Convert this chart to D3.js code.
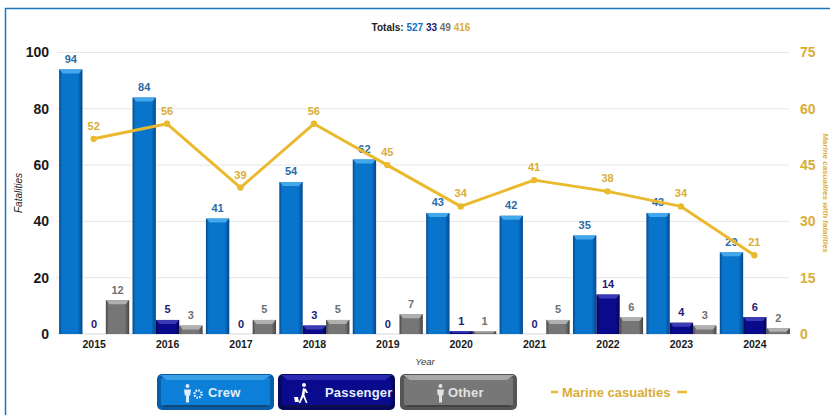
<!DOCTYPE html>
<html><head><meta charset="utf-8">
<script src="https://cdn.jsdelivr.net/npm/d3@7"></script>
<style>
html,body{margin:0;padding:0;background:#fff}
svg{display:block}
text{font-family:"Liberation Sans",Arial,sans-serif}
</style></head><body>
<svg id="c" width="830" height="415"></svg>
<script>
const years=["2015","2016","2017","2018","2019","2020","2021","2022","2023","2024"];
const crew=[94,84,41,54,62,43,42,35,43,29];
const passenger=[0,5,0,3,0,1,0,14,4,6];
const other=[12,3,5,5,7,1,5,6,3,2];
const casualties=[52,56,39,56,45,34,41,38,34,21];
const leftTicks=[0,20,40,60,80,100];
const rightTicks=[0,15,30,45,60,75];
const totals=[527,33,49,416];

const BLUE="#0a70c8",NAVY="#0b0b86",GREY="#6e6e6e",GOLD="#eab92e",GOLDT="#d9ad38";
const seriesDefs=[
 {k:"crew",v:crew,base:"#0874cc",edge:"#04488c",top:"#43a7ec",txt:"#2a6aa6"},
 {k:"passenger",v:passenger,base:"#0a0a8c",edge:"#050552",top:"#3a3ab4",txt:"#1d1a76"},
 {k:"other",v:other,base:"#767676",edge:"#454545",top:"#b0b0b0",txt:"#6f6f6f"}];

const svg=d3.select("#c");
const defs=svg.append("defs");
seriesDefs.forEach(s=>{
 const g=defs.append("linearGradient").attr("id","g-"+s.k).attr("x1",0).attr("x2",1).attr("y1",0).attr("y2",0);
 [[0,s.edge],[.12,s.base],[.8,s.base],[1,s.edge]].forEach(d=>g.append("stop").attr("offset",d[0]).attr("stop-color",d[1]));
 const b=defs.append("linearGradient").attr("id","b-"+s.k).attr("x1",0).attr("x2",0).attr("y1",0).attr("y2",1);
 [[0,s.top],[.45,s.base],[.82,s.base],[1,s.edge]].forEach(d=>b.append("stop").attr("offset",d[0]).attr("stop-color",d[1]));
});

// frame
svg.append("path").attr("d","M5.5 415V8.5H830").attr("fill","none").attr("stroke","#1b76c0").attr("stroke-width",1.5);

const x=d3.scaleBand().domain(years).range([58,791]).paddingInner(0.045).paddingOuter(0.015);
const inner=d3.scaleBand().domain(seriesDefs.map(s=>s.k)).range([0,x.bandwidth()]);
const y=d3.scaleLinear().domain([0,100]).range([334,52.5]);
const y2=d3.scaleLinear().domain([0,75]).range([334,52.5]);

// grid
svg.append("g").selectAll("line").data(leftTicks.filter(d=>d>0)).join("line")
 .attr("x1",57).attr("x2",789).attr("y1",d=>y(d)).attr("y2",d=>y(d))
 .attr("stroke","#e6e6e6").attr("stroke-width",1);

// axes
const ax=svg.append("g").attr("transform","translate(49,0)").call(d3.axisLeft(y).tickValues(leftTicks).tickSize(0).tickPadding(0));
ax.select(".domain").remove();
ax.selectAll("text").attr("font-size",14).attr("font-weight","bold").attr("fill","#1a1a1a").style("font-family",'"Liberation Sans"');
const ax2=svg.append("g").attr("transform","translate(800,0)").call(d3.axisRight(y2).tickValues(rightTicks).tickSize(0).tickPadding(0));
ax2.select(".domain").remove();
ax2.selectAll("text").attr("font-size",14).attr("font-weight","bold").attr("fill",GOLDT).style("font-family",'"Liberation Sans"');
const ax3=svg.append("g").attr("transform","translate(0,341)").call(d3.axisBottom(x).tickSize(0).tickPadding(0));
ax3.select(".domain").remove();
ax3.selectAll("text").attr("font-size",10.5).attr("font-weight","bold").attr("fill","#1a1a1a").style("font-family",'"Liberation Sans"');

// baseline
svg.append("line").attr("x1",58).attr("x2",789).attr("y1",334).attr("y2",334).attr("stroke","#d8d8d8");

// bars
seriesDefs.forEach(s=>{
 const g=svg.append("g");
 const rows=years.map((yr,i)=>({yr,val:s.v[i]}));
 const bx=d=>x(d.yr)+inner(s.k);
 const w=inner.bandwidth();
 const vis=rows.filter(d=>d.val>0);
 g.selectAll("rect.b").data(vis).join("rect").attr("class","b")
  .attr("x",bx).attr("y",d=>y(d.val)).attr("width",w).attr("height",d=>y(0)-y(d.val))
  .attr("fill",`url(#g-${s.k})`);
 g.selectAll("path.t").data(vis).join("path").attr("class","t")
  .attr("d",d=>{const h=Math.min(4,(y(0)-y(d.val))*.6),t=y(d.val);
    return `M${bx(d)+.5} ${t}H${bx(d)+w-.5}L${bx(d)+w-3.5} ${t+h}H${bx(d)+3.5}Z`;})
  .attr("fill",s.top);
 g.selectAll("text").data(rows).join("text")
  .attr("x",d=>bx(d)+w/2).attr("y",d=>y(d.val)-6.5).attr("text-anchor","middle")
  .attr("font-size",d=>s.k==="crew"?11:11).attr("font-weight","bold").attr("fill",s.txt).text(d=>d.val);
});

// line
const cx=yr=>x(yr)+x.bandwidth()/2-.5;
svg.append("path").datum(casualties)
 .attr("d",d3.line().x((d,i)=>cx(years[i])).y(d=>y2(d)))
 .attr("fill","none").attr("stroke",GOLD).attr("stroke-width",3).attr("stroke-linejoin","round");
svg.append("g").selectAll("circle").data(casualties).join("circle")
 .attr("cx",(d,i)=>cx(years[i])).attr("cy",d=>y2(d)).attr("r",3.2).attr("fill",GOLD);
svg.append("g").selectAll("text").data(casualties).join("text")
 .attr("x",(d,i)=>cx(years[i])).attr("y",d=>y2(d)-9).attr("text-anchor","middle")
 .attr("font-size",11).attr("font-weight","bold").attr("fill",GOLDT).text(d=>d);

// titles
svg.append("text").attr("transform","translate(22,193) rotate(-90)").attr("text-anchor","middle")
 .attr("font-size",10).attr("font-style","italic").attr("fill","#222").text("Fatalities");
svg.append("text").attr("x",425).attr("y",365).attr("text-anchor","middle")
 .attr("font-size",9.5).attr("font-style","italic").attr("fill","#333").text("Year");
svg.append("text").attr("transform","translate(823,193) rotate(90)").attr("text-anchor","middle")
 .attr("font-size",8).attr("font-style","italic").attr("font-weight","bold").attr("fill",GOLDT).text("Marine casualties with fatalities");

// totals
const tot=svg.append("text").attr("x",421).attr("y",31).attr("text-anchor","middle").attr("font-size",10).attr("font-weight","bold");
tot.append("tspan").attr("fill","#222").text("Totals: ");
[BLUE,"#1d1a76","#6f6f6f",GOLDT].forEach((c,i)=>tot.append("tspan").attr("fill",c).text(totals[i]+(i<3?" ":"")));

// legend
const legend=[
 {k:"crew",label:"Crew",lx:157,w:117,tx:208,base:"#0c7fd8",edge:"#075ea6",top:"#3a9fe6",icon:"crew",ic:188},
 {k:"passenger",label:"Passenger",lx:278,w:117,tx:325,base:"#0a0a8c",edge:"#07075e",top:"#2a2ab0",icon:"pass",ic:303},
 {k:"other",label:"Other",lx:400,w:117,tx:448,base:"#777",edge:"#555",top:"#a8a8a8",icon:"other",ic:441}];
const person=(g,cx,col)=>{
 g.append("circle").attr("cx",cx).attr("cy",386).attr("r",2).attr("fill",col);
 g.append("path").attr("d",`M${cx-3.5} 389.5h7l-.8 6h-1.2v7h-3v-7h-1.2z`).attr("fill",col);
};
legend.forEach(l=>{
 const g=svg.append("g");
 g.append("rect").attr("x",l.lx).attr("y",374).attr("width",l.w).attr("height",36).attr("rx",5).attr("fill",l.edge);
 g.append("rect").attr("x",l.lx+4).attr("y",378).attr("width",l.w-8).attr("height",27).attr("fill",l.base);
 g.append("path").attr("d",`M${l.lx+3} 375H${l.lx+l.w-3}L${l.lx+l.w-10} 380H${l.lx+10}Z`).attr("fill",l.top);
 g.append("path").attr("d",`M${l.lx+5} 407H${l.lx+l.w-5}L${l.lx+l.w-8} 405H${l.lx+8}Z`).attr("fill","#222").attr("opacity",.35);
 if(l.icon==="crew"){ person(g,l.ic-.5,"#dceeff");
   g.append("circle").attr("cx",l.ic+10).attr("cy",394).attr("r",3.6).attr("fill","none").attr("stroke","#dceeff").attr("stroke-width",2.4).attr("stroke-dasharray","1.6 1.2");
 } else if(l.icon==="pass"){
   g.append("circle").attr("cx",l.ic+1).attr("cy",385).attr("r",2).attr("fill","#fff");
   g.append("path").attr("d",`M${l.ic} 388l3 1 2 4 -2 0 -1 -2 -.5 4 3 8h-1.6l-2.6-6-3 6h-1.6l3-8z`).attr("fill","#fff");
   g.append("path").attr("d",`M${l.ic-9} 397h4l1 5h-4z`).attr("fill","#fff");
 } else person(g,l.ic-.5,"#e2e2e2");
 g.append("text").attr("x",l.tx).attr("y",397).attr("font-size",13).attr("font-weight","bold")
  .attr("letter-spacing",.2).attr("fill",l.k==="other"?"#e2e2e2":"#e4f0fb").text(l.label);
});
svg.append("text").attr("x",562).attr("y",397).attr("font-size",13).attr("font-weight","bold").attr("fill",GOLDT).text("Marine casualties");
[[551,558],[677,687]].forEach(d=>svg.append("line").attr("x1",d[0]).attr("x2",d[1]).attr("y1",392).attr("y2",392).attr("stroke",GOLD).attr("stroke-width",2.5));
</script>
</body></html>
